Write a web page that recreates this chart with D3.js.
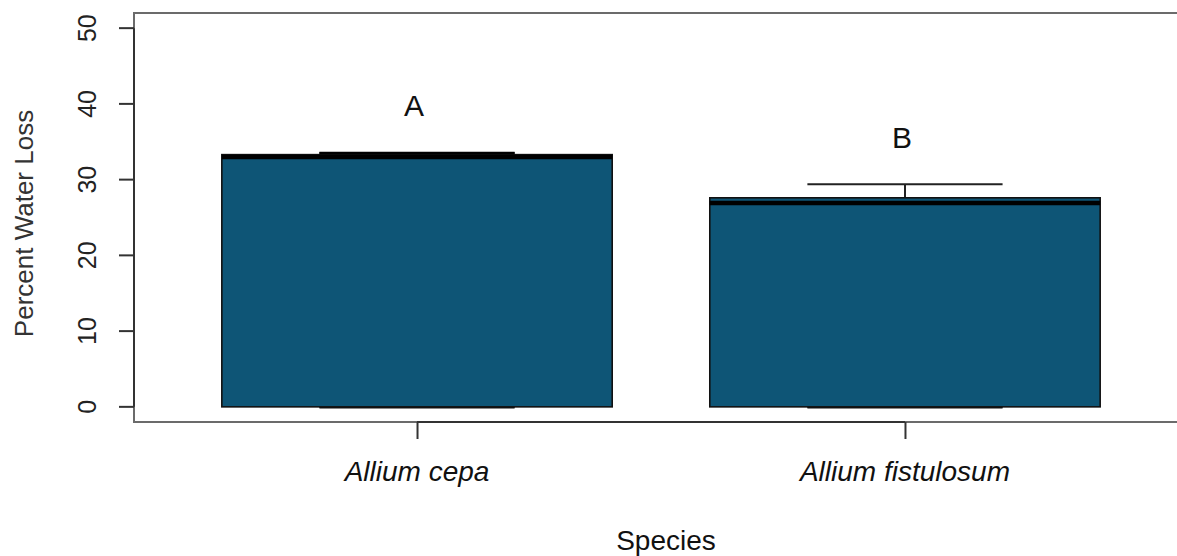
<!DOCTYPE html>
<html>
<head>
<meta charset="utf-8">
<script src="https://cdn.jsdelivr.net/npm/d3@7"></script>
<style>
  html, body { margin: 0; padding: 0; background: #fff; overflow: hidden; }
  svg { display: block; font-family: "Liberation Sans", Arial, sans-serif; }
</style>
</head>
<body>
<script>
// Data
const species = ["Allium cepa", "Allium fistulosum"];
const lowerWhisker = [0, 0];
const q1 = [0, 0];
const median = [33.0, 26.9];
const q3 = [33.3, 27.6];
const upperWhisker = [33.5, 29.4];
const letters = ["A", "B"];
const letterY = [39.8, 35.6];
const yTicks = [0, 10, 20, 30, 40, 50];

const width = 1177, height = 556;
const fill = "#0e5576";

const svg = d3.select("body").append("svg")
    .attr("width", width)
    .attr("height", height);

// R-style scales: positions 1..n, 4% padding
const x = d3.scaleLinear().domain([0.42, 2.58]).range([134, 1188]);
const y = d3.scaleLinear().domain([-2, 52]).range([422, 13]);

const boxW = 0.8, stapleW = 0.4;

// Plot frame
svg.append("rect")
    .attr("x", x(0.42)).attr("y", y(52))
    .attr("width", x(2.58) - x(0.42)).attr("height", y(-2) - y(52))
    .attr("fill", "none").attr("stroke", "#6b6b6b").attr("stroke-width", 2);

// Y axis
const yAxis = d3.axisLeft(y).tickValues(yTicks).tickSize(15).tickPadding(14);
const gy = svg.append("g").attr("transform", `translate(${x(0.42)},0)`).call(yAxis);
gy.select(".domain").remove();
gy.append("line")
    .attr("y1", y(0)).attr("y2", y(50))
    .attr("stroke", "#333").attr("stroke-width", 2);
gy.selectAll(".tick line").attr("stroke", "#333").attr("stroke-width", 2);
gy.selectAll(".tick text")
    .attr("font-size", 25).attr("fill", "#222")
    .attr("transform", d => `translate(${-47},${y(d)}) rotate(-90)`)
    .attr("x", 0).attr("y", 0).attr("dy", "0.35em")
    .attr("text-anchor", "middle");
gy.selectAll(".tick").attr("transform", null);
gy.selectAll(".tick line").attr("y1", d => y(d)).attr("y2", d => y(d));

// X axis
const xAxis = d3.axisBottom(x).tickValues([1, 2]).tickSize(17).tickFormat(() => "");
const gx = svg.append("g").attr("transform", `translate(0,${y(-2)})`).call(xAxis);
gx.select(".domain").remove();
gx.append("line")
    .attr("x1", x(1)).attr("x2", x(2))
    .attr("stroke", "#333").attr("stroke-width", 2);
gx.selectAll(".tick line").attr("stroke", "#333").attr("stroke-width", 2);

svg.append("g").selectAll("text").data(species).join("text")
    .attr("x", (d, i) => x(i + 1))
    .attr("y", 481)
    .attr("text-anchor", "middle")
    .attr("font-size", 28)
    .attr("font-style", "italic")
    .attr("fill", "#111")
    .text(d => d);

// Boxes
const boxes = svg.append("g").selectAll("g").data(species).join("g");

// whiskers
boxes.append("line")
    .attr("x1", (d, i) => x(i + 1)).attr("x2", (d, i) => x(i + 1))
    .attr("y1", (d, i) => y(q3[i])).attr("y2", (d, i) => y(upperWhisker[i]))
    .attr("stroke", "#222").attr("stroke-width", 2);
boxes.append("line")
    .attr("x1", (d, i) => x(i + 1)).attr("x2", (d, i) => x(i + 1))
    .attr("y1", (d, i) => y(q1[i])).attr("y2", (d, i) => y(lowerWhisker[i]))
    .attr("stroke", "#222").attr("stroke-width", 2);
// staples
boxes.append("line")
    .attr("x1", (d, i) => x(i + 1 - stapleW / 2)).attr("x2", (d, i) => x(i + 1 + stapleW / 2))
    .attr("y1", (d, i) => y(upperWhisker[i])).attr("y2", (d, i) => y(upperWhisker[i]))
    .attr("stroke", "#222").attr("stroke-width", 2);
boxes.append("line")
    .attr("x1", (d, i) => x(i + 1 - stapleW / 2)).attr("x2", (d, i) => x(i + 1 + stapleW / 2))
    .attr("y1", (d, i) => y(lowerWhisker[i])).attr("y2", (d, i) => y(lowerWhisker[i]))
    .attr("stroke", "#222").attr("stroke-width", 2);
// box body
boxes.append("rect")
    .attr("x", (d, i) => x(i + 1 - boxW / 2))
    .attr("width", x(1 + boxW / 2) - x(1 - boxW / 2))
    .attr("y", (d, i) => y(q3[i]))
    .attr("height", (d, i) => y(q1[i]) - y(q3[i]))
    .attr("fill", fill).attr("stroke", "#111").attr("stroke-width", 1.6);
// lower staple drawn over box edge
boxes.append("line")
    .attr("x1", (d, i) => x(i + 1 - stapleW / 2)).attr("x2", (d, i) => x(i + 1 + stapleW / 2))
    .attr("y1", (d, i) => y(lowerWhisker[i]) + 1).attr("y2", (d, i) => y(lowerWhisker[i]) + 1)
    .attr("stroke", "#111").attr("stroke-width", 1.5);
// upper staple on top of box where they overlap
boxes.filter((d, i) => y(q3[i]) - y(upperWhisker[i]) < 3).append("line")
    .attr("x1", d => x(species.indexOf(d) + 1 - stapleW / 2))
    .attr("x2", d => x(species.indexOf(d) + 1 + stapleW / 2))
    .attr("y1", d => y(upperWhisker[species.indexOf(d)]))
    .attr("y2", d => y(upperWhisker[species.indexOf(d)]))
    .attr("stroke", "#000").attr("stroke-width", 2.5);
// median
boxes.append("line")
    .attr("x1", (d, i) => x(i + 1 - boxW / 2)).attr("x2", (d, i) => x(i + 1 + boxW / 2))
    .attr("y1", (d, i) => y(median[i])).attr("y2", (d, i) => y(median[i]))
    .attr("stroke", "#000").attr("stroke-width", 4.5);

// Significance letters
svg.append("g").selectAll("text").data(letters).join("text")
    .attr("x", (d, i) => x(i + 1) - 3)
    .attr("y", (d, i) => y(letterY[i]))
    .attr("dy", "0.35em")
    .attr("text-anchor", "middle")
    .attr("font-size", 30)
    .attr("fill", "#111")
    .text(d => d);

// Axis titles
svg.append("text")
    .attr("x", 666).attr("y", 550)
    .attr("text-anchor", "middle")
    .attr("font-size", 28).attr("fill", "#111")
    .text("Species");

svg.append("text")
    .attr("transform", `translate(24,${(107 + 340) / 2}) rotate(-90)`)
    .attr("dy", "0.35em")
    .attr("text-anchor", "middle")
    .attr("font-size", 26).attr("fill", "#333")
    .text("Percent Water Loss");
</script>
</body>
</html>
